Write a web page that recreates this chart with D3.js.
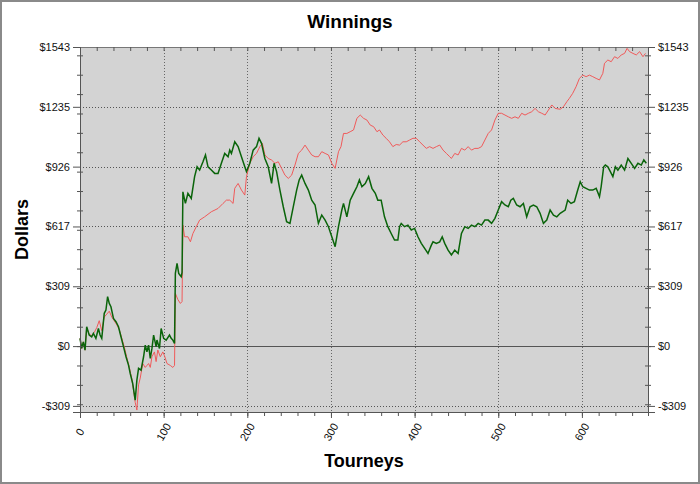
<!DOCTYPE html>
<html>
<head>
<meta charset="utf-8">
<script src="https://cdn.jsdelivr.net/npm/d3@7"></script>
<style>
body { margin: 0; background: #fff; }
text { font-family: "Liberation Sans", Arial, sans-serif; }
</style>
</head>
<body>
<div id="chart"></div>
<script>
// tick labels and values
var yTickLabels = ["-$309", "$0", "$309", "$617", "$926", "$1235", "$1543"];
var yTickValues = [-308.6, 0, 308.6, 617.2, 925.8, 1234.4, 1543];
var xTickValues = [0, 100, 200, 300, 400, 500, 600];

// [tourney, dollars]
var redLine = [[0,40],[2,-12],[4,22],[6,-21],[8,95],[11,60],[14,55],[17,70],[20,95],[23,131],[26,80],[29,150],[32,165],[35,180],[38,150],[41,130],[44,110],[47,85],[50,40],[53,-5],[56,-60],[59,-110],[62,-170],[64,-230],[66,-290],[68,-330],[70,-200],[72,-165],[75,-90],[78,-110],[80,-100],[82,-90],[84,-110],[86,-55],[89,-30],[91,-80],[93,-20],[96,-55],[99,-30],[101,-50],[104,-90],[108,-100],[111,-110],[113,-100],[114,272],[117,240],[120,220],[122,230],[123,624],[125,564],[129,564],[132,538],[135,581],[139,616],[143,650],[149,667],[157,693],[165,710],[171,736],[175,753],[179,753],[183,736],[185,814],[189,839],[193,805],[197,779],[199,874],[203,943],[207,977],[211,994],[215,1029],[218,1046],[221,986],[225,968],[229,960],[233,943],[237,951],[241,917],[245,882],[249,865],[253,882],[257,934],[261,994],[265,1011],[269,1037],[273,1011],[277,986],[281,977],[285,977],[289,1003],[293,994],[297,986],[301,943],[305,917],[309,1003],[312,1029],[315,1097],[319,1097],[323,1106],[327,1115],[331,1175],[335,1192],[339,1175],[343,1166],[347,1140],[351,1132],[355,1106],[358,1115],[362,1089],[366,1072],[370,1054],[374,1029],[378,1040],[382,1037],[386,1054],[390,1054],[394,1063],[398,1072],[402,1072],[406,1054],[410,1037],[414,1020],[418,1029],[422,1020],[426,1029],[430,1037],[434,1011],[438,994],[442,977],[444,968],[448,994],[452,986],[456,1020],[460,1011],[464,1029],[468,1011],[472,1020],[476,1020],[480,1029],[484,1063],[488,1097],[492,1115],[496,1166],[500,1201],[504,1201],[508,1192],[512,1183],[516,1175],[520,1183],[524,1175],[528,1201],[532,1192],[536,1201],[540,1209],[544,1226],[548,1209],[552,1201],[556,1192],[560,1218],[564,1244],[568,1226],[574,1222],[578,1235],[582,1261],[585,1278],[589,1304],[593,1338],[597,1381],[601,1398],[605,1390],[609,1398],[613,1390],[617,1381],[621,1373],[625,1407],[627,1459],[631,1476],[635,1467],[639,1493],[643,1484],[647,1502],[651,1510],[654,1536],[657,1519],[661,1510],[665,1502],[669,1519],[673,1493],[676,1510]];

var greenLine = [[0,40],[2,-12],[4,22],[6,-21],[8,100],[11,57],[14,48],[16,65],[19,40],[22,91],[24,57],[26,40],[29,169],[31,186],[33,255],[35,220],[37,203],[40,143],[43,126],[46,100],[49,48],[52,-3],[55,-55],[58,-98],[60,-141],[63,-193],[66,-279],[68,-175],[70,-115],[73,-124],[76,-55],[78,5],[80,-29],[82,5],[84,-64],[86,-12],[88,57],[91,-3],[92,31],[95,-12],[97,91],[100,40],[103,31],[107,57],[109,40],[111,31],[113,14],[114,375],[116,427],[118,375],[121,358],[122,380],[123,796],[126,736],[129,788],[133,762],[137,874],[140,925],[143,908],[147,951],[150,986],[153,925],[157,908],[161,891],[165,891],[169,943],[173,994],[177,977],[179,1011],[181,994],[185,1054],[189,1029],[193,977],[197,925],[199,900],[203,943],[207,1011],[211,1029],[214,1072],[217,1046],[221,968],[225,925],[229,839],[232,943],[235,900],[239,805],[243,719],[247,642],[251,633],[255,719],[259,805],[262,857],[265,882],[269,839],[273,805],[277,753],[281,728],[285,633],[289,676],[293,650],[297,616],[301,564],[305,513],[309,616],[313,702],[315,736],[319,667],[323,753],[327,788],[331,822],[334,857],[337,822],[341,839],[345,874],[349,814],[353,788],[356,753],[360,753],[364,667],[368,616],[372,581],[376,547],[380,547],[382,616],[384,633],[388,616],[392,624],[396,599],[400,607],[404,564],[408,530],[412,504],[416,478],[420,521],[422,538],[426,530],[430,538],[433,564],[436,530],[440,495],[444,470],[448,495],[452,478],[456,581],[460,616],[464,607],[468,624],[472,616],[476,633],[480,624],[484,650],[488,650],[492,633],[496,659],[500,702],[504,745],[508,728],[512,719],[515,753],[518,762],[522,728],[526,719],[530,736],[534,667],[538,719],[542,728],[546,719],[550,685],[554,633],[558,650],[562,702],[566,676],[570,667],[574,685],[580,702],[583,753],[587,736],[591,745],[595,805],[598,848],[601,822],[605,814],[609,805],[613,805],[617,814],[621,771],[623,822],[626,925],[628,934],[631,925],[634,900],[637,874],[640,925],[643,908],[647,934],[651,908],[655,968],[659,943],[663,917],[667,943],[671,934],[674,960],[677,943]];

var width = 700, height = 484;
var plotLeft = 80, plotRight = 648, plotTop = 47, plotBottom = 412;
var axisColor = "#555";

var svg = d3.select("#chart")
	.append("svg")
	.attr("width", width)
	.attr("height", height);

// outer frame
svg.append("rect")
	.attr("x", 1).attr("y", 1)
	.attr("width", width - 2).attr("height", height - 2)
	.attr("fill", "#fff")
	.attr("stroke", "#8a8a8a")
	.attr("stroke-width", 2);

var x = d3.scaleLinear().domain([0, 679]).range([plotLeft, plotRight]);
var y = d3.scaleLinear().domain([-340, 1543]).range([plotBottom, plotTop]);

// plot background
svg.append("rect")
	.attr("x", plotLeft).attr("y", plotTop)
	.attr("width", plotRight - plotLeft).attr("height", plotBottom - plotTop)
	.attr("fill", "#d3d3d3");

// dotted grid
svg.selectAll("hgrid")
	.data(yTickValues.filter(function(d) { return d != 0; }))
	.enter()
	.append("line")
	.attr("x1", plotLeft).attr("x2", plotRight)
	.attr("y1", function(d) { return Math.round(y(d)) + 0.5; })
	.attr("y2", function(d) { return Math.round(y(d)) + 0.5; })
	.attr("stroke", "#555")
	.attr("stroke-dasharray", "1,2");

svg.selectAll("vgrid")
	.data(xTickValues.filter(function(d) { return d != 0; }))
	.enter()
	.append("line")
	.attr("y1", plotTop).attr("y2", plotBottom)
	.attr("x1", function(d) { return Math.round(x(d)) + 0.5; })
	.attr("x2", function(d) { return Math.round(x(d)) + 0.5; })
	.attr("stroke", "#666")
	.attr("stroke-dasharray", "1,2");

// zero line
svg.append("line")
	.attr("x1", plotLeft).attr("x2", plotRight)
	.attr("y1", Math.round(y(0)) + 0.5).attr("y2", Math.round(y(0)) + 0.5)
	.attr("stroke", "#555");

// the two series
var line = d3.line()
	.x(function(d) { return x(d[0]); })
	.y(function(d) { return y(d[1]); });

svg.append("path")
	.datum(redLine)
	.attr("d", line)
	.attr("fill", "none")
	.attr("stroke", "#f05a5a")
	.attr("stroke-width", 1);

svg.append("path")
	.datum(greenLine)
	.attr("d", line)
	.attr("fill", "none")
	.attr("stroke", "#0a640a")
	.attr("stroke-width", 1.5);

// plot border
svg.append("rect")
	.attr("x", plotLeft + 0.5).attr("y", plotTop + 0.5)
	.attr("width", plotRight - plotLeft).attr("height", plotBottom - plotTop)
	.attr("fill", "none")
	.attr("stroke", "#777");

// axes
var yMinor = d3.range(-300, 1600, 100);
var xMinor = d3.range(0, 680, 20);

function styleAxis(g) {
	g.select(".domain").attr("stroke", axisColor);
	g.selectAll(".tick line").attr("stroke", axisColor);
	g.selectAll("text").attr("fill", "#111").style("font-size", "11px");
}

svg.append("g")
	.attr("transform", "translate(" + plotLeft + ",0)")
	.call(d3.axisLeft(y).tickValues(yTickValues).tickSize(7).tickPadding(3)
		.tickFormat(function(d, i) { return yTickLabels[i]; }))
	.call(styleAxis);

svg.append("g")
	.attr("transform", "translate(" + plotRight + ",0)")
	.call(d3.axisRight(y).tickValues(yTickValues).tickSize(7).tickPadding(3)
		.tickFormat(function(d, i) { return yTickLabels[i]; }))
	.call(styleAxis);

svg.append("g")
	.attr("transform", "translate(" + (plotLeft + 3) + ",0)")
	.call(d3.axisLeft(y).tickValues(yMinor).tickSize(6).tickFormat(""))
	.call(function(g) { g.select(".domain").remove(); })
	.call(styleAxis);

svg.append("g")
	.attr("transform", "translate(" + (plotRight - 3) + ",0)")
	.call(d3.axisRight(y).tickValues(yMinor).tickSize(6).tickFormat(""))
	.call(function(g) { g.select(".domain").remove(); })
	.call(styleAxis);

svg.append("g")
	.attr("transform", "translate(0," + plotBottom + ")")
	.call(d3.axisBottom(x).tickValues(xMinor).tickSize(4).tickFormat(""))
	.call(styleAxis);

svg.append("g")
	.attr("transform", "translate(0," + plotBottom + ")")
	.call(d3.axisBottom(x).tickValues(xTickValues).tickSize(6).tickFormat(""))
	.call(function(g) { g.select(".domain").remove(); })
	.call(styleAxis);

// top ticks point into the plot
svg.append("g")
	.attr("transform", "translate(0," + plotTop + ")")
	.call(d3.axisBottom(x).tickValues(xMinor).tickSize(4).tickFormat(""))
	.call(function(g) { g.select(".domain").remove(); })
	.call(styleAxis);

// rotated x labels
svg.selectAll("xlabels")
	.data(xTickValues)
	.enter()
	.append("text")
	.text(function(d) { return d; })
	.attr("transform", function(d) { return "translate(" + x(d) + ",432) rotate(-60)"; })
	.attr("dy", "0.35em")
	.style("text-anchor", "middle")
	.style("font-size", "11px")
	.attr("fill", "#111");

// titles
svg.append("text")
	.text("Winnings")
	.attr("x", 350).attr("y", 28)
	.style("text-anchor", "middle")
	.style("font-size", "19px")
	.style("font-weight", "bold");

svg.append("text")
	.text("Tourneys")
	.attr("x", (plotLeft + plotRight) / 2).attr("y", 467)
	.style("text-anchor", "middle")
	.style("font-size", "18px")
	.style("font-weight", "bold");

svg.append("text")
	.text("Dollars")
	.attr("transform", "translate(28," + ((plotTop + plotBottom) / 2) + ") rotate(-90)")
	.style("text-anchor", "middle")
	.style("font-size", "18px")
	.style("font-weight", "bold");
</script>
</body>
</html>
